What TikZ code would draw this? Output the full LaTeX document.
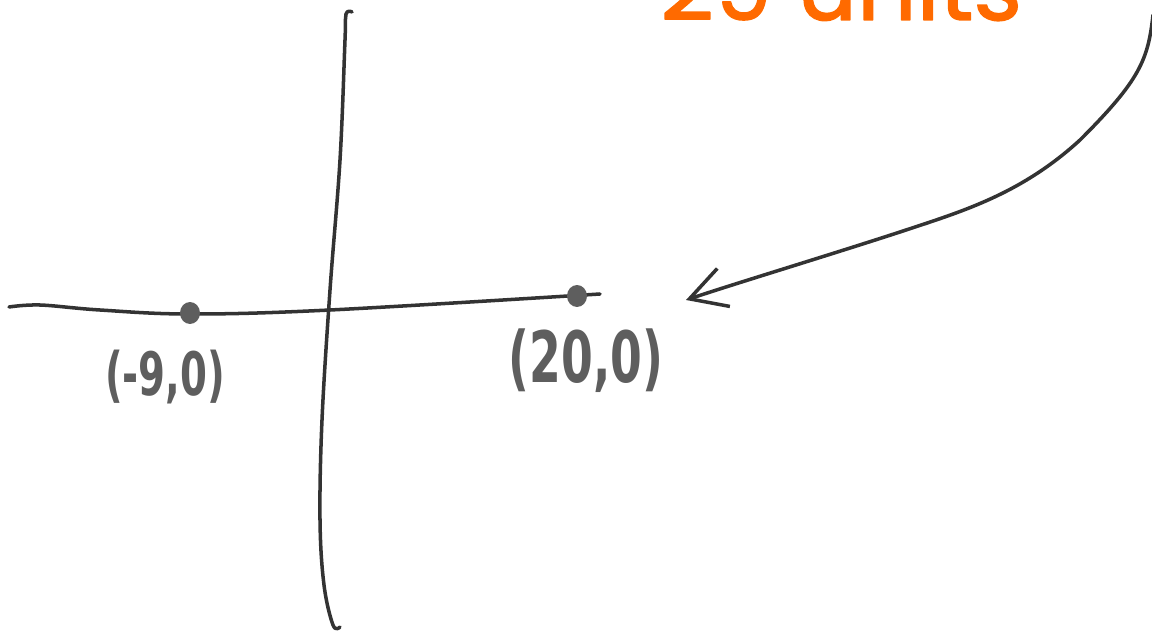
\documentclass[tikz,border=0pt]{standalone}
\usepackage{fontspec}
\usepackage{xcolor}
\usepackage{tikz}
\usetikzlibrary{arrows.meta,positioning,shapes.geometric}

\newfontfamily\headfont[FakeBold=1.6]{Poppins}
\newfontfamily\handfont{DejaVu Sans}
\definecolor{inkdark}{HTML}{333333}
\definecolor{inkgray}{HTML}{5E5E5E}
\definecolor{accent}{HTML}{FF6A00}

\begin{document}
\begin{tikzpicture}[x=0.02cm, y=-0.02cm, line cap=round, line join=round]
    % Styles
    \tikzstyle{axis} = [draw=inkdark, line width=2pt]
    \tikzstyle{dot} = [ellipse, fill=inkgray, minimum width=0.4cm, minimum height=0.44cm, inner sep=0pt]
    \tikzstyle{pointlabel} = [text=inkgray, inner sep=0pt, yscale=1.55, transform shape]
    \tikzstyle{pointer} = [draw=inkdark, line width=2pt, -{Straight Barb[length=0.72cm, width=0.8cm]}]

    \useasboundingbox (0,0) rectangle (1152,631);

    % Axes
    \path [axis] plot [smooth, tension=0.6] coordinates {(9,307) (40,305) (100,310) (190,314) (330,310) (600,294)};
    \path [axis] plot [smooth, tension=0.6] coordinates {(352,12) (346,14) (345,40) (340,160) (330,290) (322,420) (320,520) (324,585) (333,625) (340,627)};

    % Nodes
    \node [dot] (minus) at (190,313) {};
    \node [dot] (twenty) at (577,296) {};
    \node [pointlabel, font=\handfont\bfseries\fontsize{22}{22}\selectfont, below=0.5cm of minus, xshift=-0.5cm] (minuslabel) {(-9,0)};
    \node [pointlabel, font=\handfont\bfseries\fontsize{26}{26}\selectfont, below=0.42cm of twenty, xshift=0.18cm] (twentylabel) {(20,0)};
    \node [anchor=base west, text=accent, font=\headfont\fontsize{53}{53}\selectfont, inner sep=0pt] (distance) at (660,20) {29 units};
    \coordinate (tail) at (1153,15);
    \coordinate (head) at (686,300);

    % Paths
    \path [pointer] (tail) .. controls (1148,60) and (1140,80) .. (1080,140)
        .. controls (1020,195) and (960,212) .. (900,232)
        .. controls (820,258) and (740,282) .. (head);
\end{tikzpicture}
\end{document}
